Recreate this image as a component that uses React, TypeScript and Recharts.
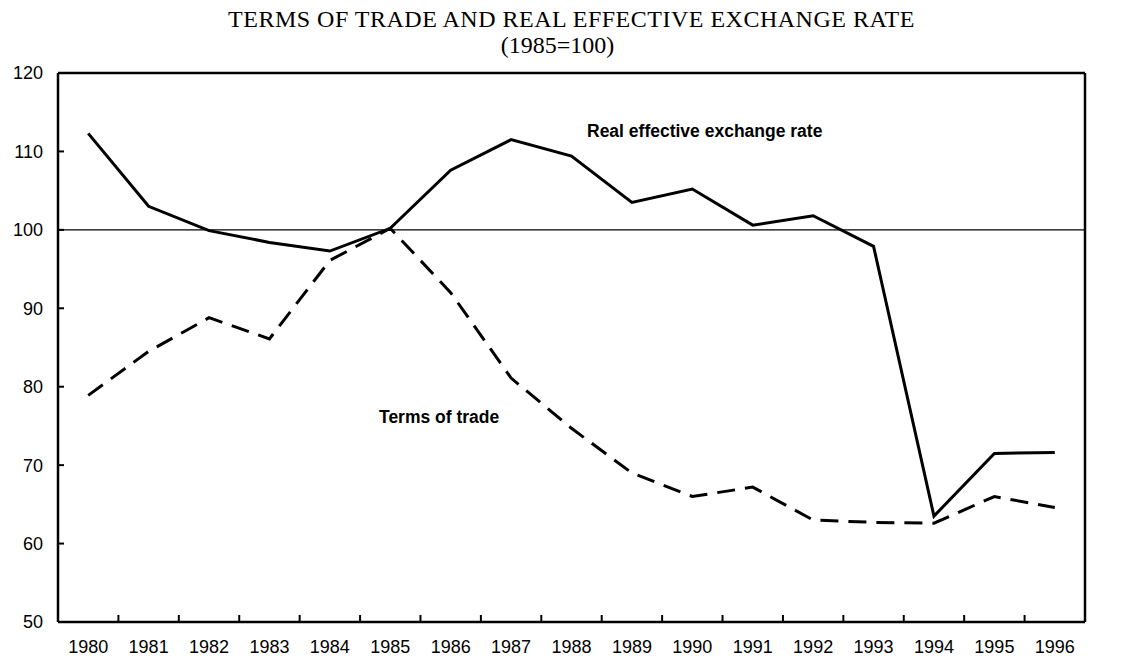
import { LineChart, Line, XAxis, YAxis, ReferenceLine } from 'recharts'

const years = [
  '1980', '1981', '1982', '1983', '1984', '1985', '1986', '1987', '1988',
  '1989', '1990', '1991', '1992', '1993', '1994', '1995', '1996',
]

// Real effective exchange rate (solid)
const reer = [
  112.3, 103.0, 99.9, 98.4, 97.3, 100.2, 107.6, 111.5, 109.4, 103.5, 105.2,
  100.6, 101.8, 97.9, 63.5, 71.5, 71.6,
]

// Terms of trade (dashed)
const tot = [
  78.9, 84.5, 88.8, 86.1, 96.1, 100.2, 92.0, 81.1, 74.7, 69.0, 66.0, 67.2,
  63.0, 62.7, 62.6, 66.0, 64.6,
]

const yTicks = [50, 60, 70, 80, 90, 100, 110, 120]

const data = years.map((year, i) => ({ year, reer: reer[i], tot: tot[i] }))

const SANS = '"Liberation Sans", Arial, sans-serif'
const SERIF = '"Liberation Serif", "Times New Roman", serif'

const YearTick = (props: any) => {
  const { x, y, payload, index } = props
  const half = payload && payload.offset ? payload.offset : 30.2
  return (
    <g>
      <text
        x={x}
        y={y + 31}
        textAnchor='middle'
        fontFamily={SANS}
        fontSize={18}
        fill='#000'
      >
        {payload.value}
      </text>
      {index < years.length - 1 && (
        <line
          x1={x + half}
          x2={x + half}
          y1={y}
          y2={y - 7}
          stroke='#000'
          strokeWidth={2}
        />
      )}
    </g>
  )
}

const tickStyle = { fontFamily: SANS, fontSize: 18, fill: '#000' }

export default function App() {
  return (
    <div style={{ position: 'relative', width: 1126, height: 652 }}>
      <LineChart
        width={1126}
        height={652}
        data={data}
        margin={{ top: 65, right: 0, bottom: 0, left: 0 }}
      >
        <XAxis
          dataKey='year'
          scale='band'
          height={38}
          interval={0}
          tickSize={0}
          tickMargin={0}
          tickLine={false}
          axisLine={{ stroke: '#000', strokeWidth: 2.5 }}
          tick={<YearTick />}
        />
        <YAxis
          yAxisId='left'
          orientation='left'
          width={50}
          domain={[50, 120]}
          ticks={yTicks}
          interval={0}
          tickSize={-6}
          tickMargin={21}
          tickLine={{ stroke: '#000', strokeWidth: 2 }}
          axisLine={{ stroke: '#000', strokeWidth: 2.5 }}
          tick={tickStyle}
        />
        <YAxis
          yAxisId='right'
          orientation='right'
          width={49}
          domain={[50, 120]}
          ticks={yTicks}
          interval={0}
          tickSize={7}
          tickMargin={10}
          tickLine={{ stroke: '#000', strokeWidth: 1.5 }}
          axisLine={{ stroke: '#000', strokeWidth: 2.5 }}
          tick={tickStyle}
        />
        <ReferenceLine yAxisId='left' y={120} stroke='#000' strokeWidth={2.5} />
        <ReferenceLine yAxisId='left' y={100} stroke='#000' strokeWidth={1.2} />
        <Line
          yAxisId='left'
          dataKey='tot'
          stroke='#000'
          strokeWidth={3}
          strokeDasharray='18 10'
          dot={false}
          isAnimationActive={false}
        />
        <Line
          yAxisId='left'
          dataKey='reer'
          stroke='#000'
          strokeWidth={3}
          dot={false}
          isAnimationActive={false}
        />
      </LineChart>
      <svg
        width={1126}
        height={652}
        style={{
          position: 'absolute',
          left: 0,
          top: 0,
          pointerEvents: 'none',
          overflow: 'visible',
        }}
      >
        <text
          x={563.5}
          y={19}
          textAnchor='middle'
          fontFamily={SERIF}
          fontSize={24}
          letterSpacing={0.5}
          fill='#000'
        >
          TERMS OF TRADE AND REAL EFFECTIVE EXCHANGE RATE
        </text>
        <text x={549.5} y={45} textAnchor='middle' fontFamily={SERIF} fontSize={24} fill='#000'>
          (1985=100)
        </text>
        <text x={579} y={129} fontFamily={SANS} fontSize={17.5} fontWeight='bold' fill='#000'>
          Real effective exchange rate
        </text>
        <text x={371} y={415} fontFamily={SANS} fontSize={17.5} fontWeight='bold' fill='#000'>
          Terms of trade
        </text>
      </svg>
    </div>
  )
}
